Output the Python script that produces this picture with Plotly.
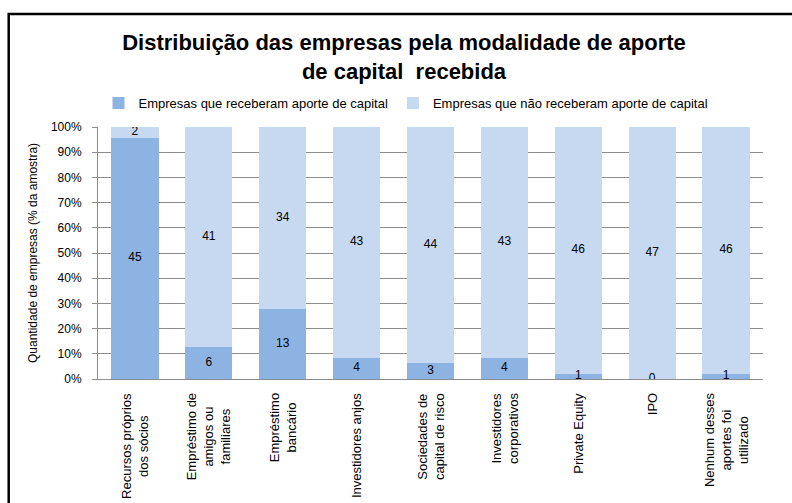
import plotly.graph_objects as go

categories = [
    "Recursos próprios<br>dos sócios",
    "Empréstimo de<br>amigos ou<br>familiares",
    "Empréstimo<br>bancário",
    "Investidores anjos",
    "Sociedades de<br>capital de risco",
    "Investidores<br>corporativos",
    "Private Equity",
    "IPO",
    "Nenhum desses<br>aportes foi<br>utilizado",
]
received = [45, 6, 13, 4, 3, 4, 1, 0, 1]
not_received = [2, 41, 34, 43, 44, 43, 46, 47, 46]
series_names = ["Empresas que receberam aporte de capital",
                "Empresas que não receberam aporte de capital"]
title_text = "Distribuição das empresas pela modalidade de aporte<br>de capital  recebida"
y_title = "Quantidade de empresas (% da amostra)"

C_DARK = "#8DB3E2"
C_LIGHT = "#C6D9F1"
GRID = "#8C8C8C"
FONT = "Liberation Sans, Arial, sans-serif"

W, H = 792, 503
L, R, T, B = 98, 29, 127, 124
pw, ph = W - L - R, H - T - B

fig = go.Figure()
fig.add_trace(go.Bar(x=categories, y=received, name=series_names[0],
                     marker=dict(color=C_DARK, line=dict(width=0))))
fig.add_trace(go.Bar(x=categories, y=not_received, name=series_names[1],
                     marker=dict(color=C_LIGHT, line=dict(width=0))))

# data labels at segment midpoints (percent)
tot = [a + b for a, b in zip(received, not_received)]
mid_r = [a / t * 100 / 2 for a, t in zip(received, tot)]
mid_n = [a / t * 100 + b / t * 100 / 2 for a, b, t in zip(received, not_received, tot)]
fig.add_trace(go.Scatter(x=categories, y=mid_r, mode="text", text=[str(v) for v in received],
                         textfont=dict(size=12, color="#000000", family=FONT),
                         showlegend=False, hoverinfo="skip"))
fig.add_trace(go.Scatter(x=categories, y=mid_n, mode="text", text=[str(v) for v in not_received],
                         textfont=dict(size=12, color="#000000", family=FONT),
                         showlegend=False, hoverinfo="skip"))


def px_x(x):
    return (x - L) / pw


def px_y(y):
    return 1 - (y - T) / ph


# outer frame
fig.add_shape(type="rect", xref="paper", yref="paper",
              x0=px_x(8.7), x1=px_x(797), y0=px_y(14), y1=px_y(510),
              line=dict(color="#000000", width=2.5), fillcolor="rgba(0,0,0,0)", layer="above")

fig.add_annotation(text=y_title, xref="paper", yref="paper", x=px_x(33), y=0.5,
                   textangle=-90, showarrow=False, xanchor="center", yanchor="middle",
                   font=dict(size=12, color="#000000", family=FONT))

# category labels (rotated, centred lines)
for c in categories:
    fig.add_annotation(text=c, x=c, xref="x", y=px_y(391), yref="paper",
                       textangle=-90, showarrow=False, xanchor="center", yanchor="top",
                       align="center", font=dict(size=13, color="#000000", family=FONT))

fig.update_layout(
    width=W, height=H,
    margin=dict(l=L, r=R, t=T, b=B),
    paper_bgcolor="#FFFFFF", plot_bgcolor="#FFFFFF",
    barmode="stack", barnorm="percent", bargap=0.36,
    font=dict(family=FONT, size=12, color="#000000"),
    title=dict(text=title_text, x=404 / W, xanchor="center", y=1 - 50 / H, yanchor="middle",
               font=dict(size=22, family=FONT, color="#000000", weight="bold")),
    legend=dict(orientation="h", x=px_x(406), xanchor="center", y=px_y(103), yanchor="middle",
                font=dict(size=13, family=FONT), itemclick=False, traceorder="normal"),
    showlegend=True,
)
fig.update_yaxes(range=[0, 100], dtick=10, ticksuffix="%", ticks="outside", ticklen=5,
                 tickcolor=GRID, showline=True, linecolor=GRID, linewidth=1,
                 showgrid=True, gridcolor=GRID, gridwidth=1, zeroline=False,
                 tickfont=dict(size=12, family=FONT), ticklabelstandoff=8)
fig.update_xaxes(showline=True, linecolor=GRID, linewidth=1, ticks="", showticklabels=False)

fig.write_html("out.html", config={"displayModeBar": False},
               post_script="document.body.style.margin='0';document.body.style.overflow='hidden';")
